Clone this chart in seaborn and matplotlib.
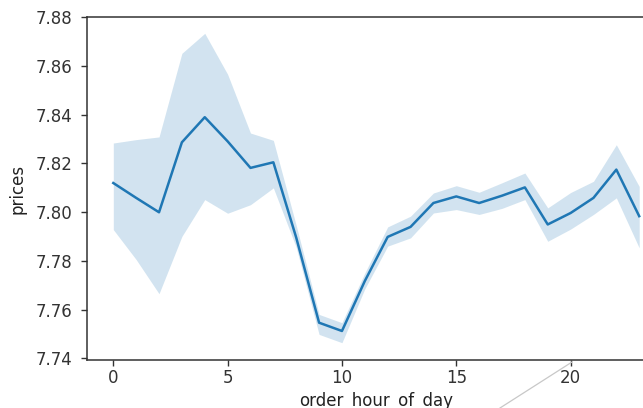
import matplotlib
matplotlib.use("Agg")
import matplotlib.pyplot as plt
import seaborn as sns
import pandas as pd
from matplotlib.lines import Line2D

hours = list(range(24))
mean_price = [7.8119, 7.8058, 7.7999, 7.8286, 7.8389, 7.8290, 7.8181, 7.8204,
              7.7895, 7.7546, 7.7512, 7.7717, 7.7898, 7.7939, 7.8037, 7.8064,
              7.8037, 7.8067, 7.8101, 7.7949, 7.7996, 7.8058, 7.8174, 7.7983]
ci_upper = [7.8283, 7.8297, 7.8308, 7.8651, 7.8733, 7.8565, 7.8324, 7.8294,
            7.7945, 7.7580, 7.7546, 7.7750, 7.7939, 7.7983, 7.8078, 7.8108,
            7.8081, 7.8120, 7.8160, 7.8017, 7.8080, 7.8126, 7.8276, 7.8105]
ci_lower = [7.7928, 7.7805, 7.7665, 7.7900, 7.8051, 7.7995, 7.8030, 7.8099,
            7.7855, 7.7498, 7.7464, 7.7685, 7.7860, 7.7894, 7.7996, 7.8010,
            7.7990, 7.8015, 7.8051, 7.7880, 7.7930, 7.7990, 7.8058, 7.7853]
y_ticks = [7.74, 7.76, 7.78, 7.80, 7.82, 7.84, 7.86, 7.88]
x_ticks = [0, 5, 10, 15, 20]

df = pd.DataFrame({"order_hour_of_day": hours, "prices": mean_price,
                   "lo": ci_lower, "hi": ci_upper})

plt.rcParams["font.family"] = ["DejaVu Sans"]
fig = plt.figure(figsize=(6.43, 4.08), dpi=100)
ax = fig.add_axes([87/643, 48/408, 578.5/643, 343/408])

color = "#1f77b4"
ax.fill_between(df["order_hour_of_day"], df["lo"], df["hi"], color=color, alpha=0.2, linewidth=0)
sns.lineplot(data=df, x="order_hour_of_day", y="prices", ax=ax, color=color, linewidth=1.8)

ax.set_xlim(-1.15, 24.15)
ax.set_ylim(7.7393, 7.8800)
ax.set_xticks(x_ticks)
ax.set_yticks(y_ticks)
ax.set_yticklabels([f"{v:.2f}" for v in y_ticks])
ax.tick_params(labelsize=12, colors="#333333", length=4.2, width=1.0)
ax.tick_params(axis="y", pad=6.5)
ax.tick_params(axis="x", pad=2)
for s in ax.spines.values():
    s.set_color("#333333")
    s.set_linewidth(1.1)
ax.set_xlabel("order_hour_of_day", fontsize=12, labelpad=4, color="#222222")
ax.set_ylabel("prices", fontsize=12, labelpad=6, color="#222222")

fig.add_artist(Line2D([500/643, 572/643], [0/408, 46/408], transform=fig.transFigure,
                      color="#c8c8c8", linewidth=0.9))

fig.savefig("out.png", dpi=100)
